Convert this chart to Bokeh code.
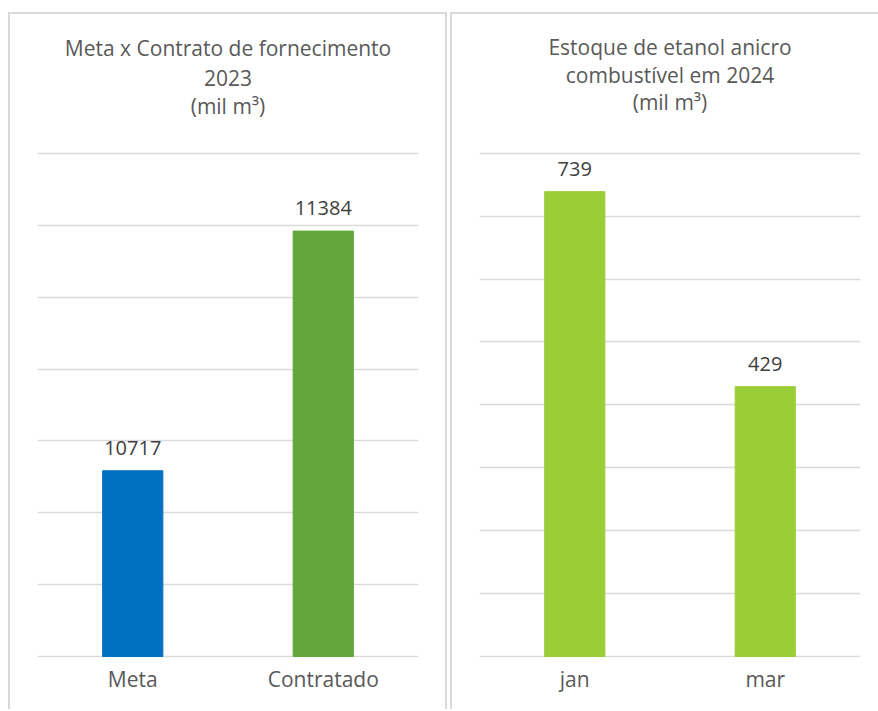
from bokeh.plotting import figure
from bokeh.models import ColumnDataSource, LabelSet, Label, FixedTicker, Range1d, FactorRange
from bokeh.core.properties import value
from bokeh.layouts import row
from bokeh.embed import file_html
from bokeh.resources import INLINE

# ---- data ----
cats_left = ["Meta", "Contratado"]
vals_left = [10717, 11384]
colors_left = ["#0070C0", "#63A73B"]
ticks_left = [10200, 10400, 10600, 10800, 11000, 11200, 11400, 11600]
title_left = ["Meta x Contrato de fornecimento", "2023", "(mil m³)"]

cats_right = ["jan", "mar"]
vals_right = [739, 429]
colors_right = ["#9ACD38", "#9ACD38"]
ticks_right = [0, 100, 200, 300, 400, 500, 600, 700, 800]
title_right = ["Estoque de etanol anicro", "combustível em 2024", "(mil m³)"]

FONT = "Open Sans"
GRID = "#d9d9d9"
HEIGHT = 697          # canvas height
CANVAS_TOP = 14       # page y of canvas top (margin + border)
GRID_TOP = 153        # page y of top gridline


def make_panel(cats, vals, colors, ticks, title_lines, title_baselines,
               width, base_y, mbl, mbr):
    src = ColumnDataSource(dict(cat=cats, val=vals, color=colors,
                                label=[str(v) for v in vals]))
    mbb = CANVAS_TOP + HEIGHT - (base_y + 1)
    frame_h = HEIGHT - mbb
    frame_bottom = CANVAS_TOP + frame_h
    upp = (ticks[-1] - ticks[0]) / (base_y - GRID_TOP)
    y0 = ticks[0] - (frame_bottom - base_y) * upp
    y1 = ticks[0] + (base_y - CANVAS_TOP) * upp
    p = figure(x_range=FactorRange(*cats), y_range=Range1d(y0, y1),
               width=width, height=HEIGHT, output_backend="svg", toolbar_location=None,
               min_border_left=mbl, min_border_right=mbr, min_border_top=0,
               min_border_bottom=mbb)
    p.vbar(x="cat", top="val", bottom=ticks[0], width=0.316, color="color", source=src)
    labels = LabelSet(x="cat", y="val", text="label", source=src, text_align="center",
                      text_baseline="alphabetic", y_offset=16, text_font=value(FONT),
                      text_font_size="20px", text_color="#404040")
    p.add_layout(labels)
    frame_w = width - mbl - mbr
    for line, by in zip(title_lines, title_baselines):
        p.add_layout(Label(x=frame_w / 2, y=frame_bottom - by, x_units="screen",
                           y_units="screen", text=line, text_align="center",
                           text_baseline="alphabetic", text_font=FONT,
                           text_font_size="21px", text_color="#595959"))
    p.yaxis.visible = False
    p.ygrid.ticker = FixedTicker(ticks=ticks)
    p.ygrid.grid_line_color = GRID
    p.ygrid.grid_line_width = 1.6
    p.xgrid.grid_line_color = None
    p.xaxis.axis_line_color = None
    p.xaxis.major_tick_line_color = None
    p.xaxis.major_tick_out = 0
    p.xaxis.major_label_standoff = 7
    p.xaxis.major_label_text_font = FONT
    p.xaxis.major_label_text_font_size = "21px"
    p.xaxis.major_label_text_color = "#595959"
    p.outline_line_color = None
    return p


p1 = make_panel(cats_left, vals_left, colors_left, ticks_left, title_left, [47, 77, 105],
                439, 656, 27, 31)
p1.styles = {"border-top": "2px solid #d9d9d9", "border-left": "2px solid #d9d9d9",
             "border-right": "2px solid #d9d9d9", "box-sizing": "border-box"}
p2 = make_panel(cats_right, vals_right, colors_right, ticks_right, title_right, [47, 75, 102],
                428, 657, 27, 20)
p2.styles = {"border-top": "2px solid #d9d9d9", "border-left": "2px solid #d9d9d9",
             "box-sizing": "border-box"}

layout = row(p1, p2, spacing=3)
layout.margin = (12, 0, 0, 8)

open("out.html", "w").write(file_html(layout, INLINE))
